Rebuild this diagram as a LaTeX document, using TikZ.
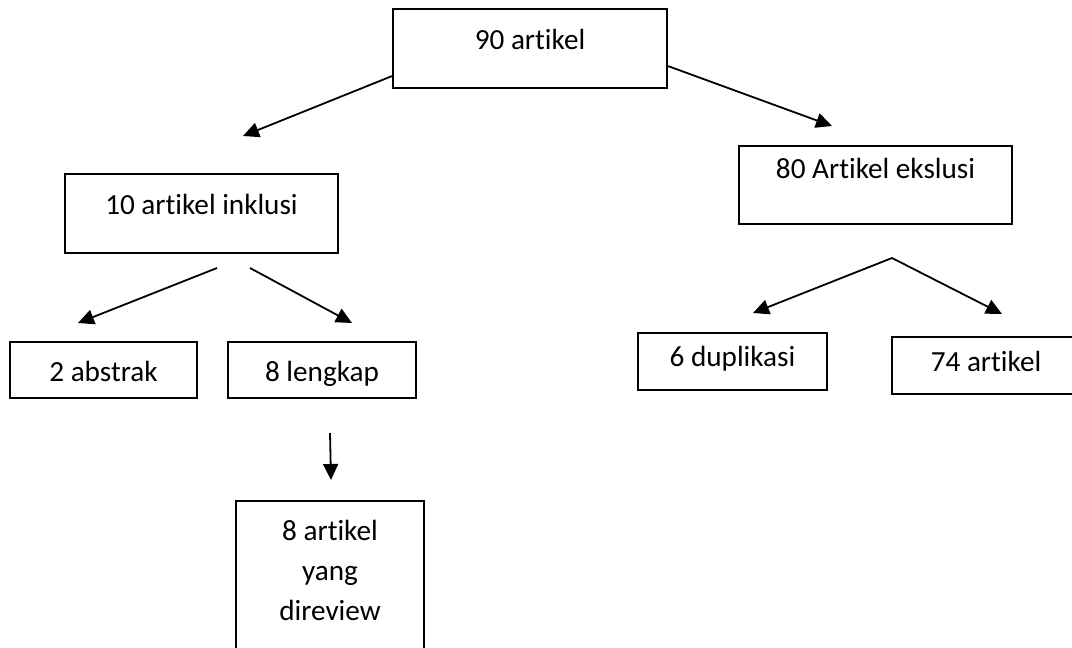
\documentclass[tikz,border=0pt]{standalone}
\usepackage{fontspec}
\setmainfont{Carlito}[Ligatures=NoCommon]
\usetikzlibrary{arrows.meta}
\begin{document}
\begin{tikzpicture}[x=0.5pt,y=-0.5pt,
  box/.style={draw, line width=1.1pt, rectangle, inner xsep=2pt, inner ysep=0pt, anchor=north, font=\fontsize{14.6}{20}\selectfont},
  arr/.style={line width=0.9pt, -{Triangle[length=8pt,width=7.5pt]}}]
\useasboundingbox (0,0) rectangle (1072,648);
\fill[white] (0,0) rectangle (1072,648);
\clip (0,0) rectangle (1072,648);

\node[box, minimum width=137pt, text height=20pt, text depth=19.5pt] (b90) at (530,8) {90 artikel};
\node[box, minimum width=136.5pt, text height=20pt, text depth=19.5pt] (b10) at (201.5,173) {10 artikel inklusi};
\node[box, minimum width=136.5pt, text height=16pt, text depth=23pt] (b80) at (875.5,145) {80 Artikel ekslusi};
\node[box, minimum width=93.5pt, text height=19.5pt, text depth=8.5pt] (babs) at (103.5,341) {2 abstrak};
\node[box, minimum width=94pt, text height=19.5pt, text depth=8.5pt] (blen) at (322,341) {8 lengkap};
\node[box, minimum width=94.5pt, text height=16.5pt, text depth=12pt] (bdup) at (732.5,332) {6 duplikasi};
\node[box, minimum width=94pt, text height=17pt, text depth=11.5pt] (b74) at (986,336) {74 artikel};
\node[box, minimum width=94pt, text height=19.5pt, text depth=70.5pt] (brev) at (330,500)
  {\begin{tabular}[t]{@{}c@{}}8 artikel\\yang\\direview\end{tabular}};

\coordinate (t90a) at (243,136);
\coordinate (t90b) at (832,126);
\coordinate (s10a) at (217,268);
\coordinate (s10b) at (250,268);
\coordinate (t10a) at (78,323);
\coordinate (t10b) at (352,323);
\coordinate (slen) at (330,433);
\coordinate (tlen) at (331,480);
\coordinate (apex) at (892,258);
\coordinate (t80a) at (753,313);
\coordinate (t80b) at (1002,314);

\draw[arr] ([yshift=-13.75pt]b90.west) -- (t90a);
\draw[arr] ([yshift=-8.75pt]b90.east) -- (t90b);
\draw[arr] (s10a) -- (t10a);
\draw[arr] (s10b) -- (t10b);
\draw[arr] (slen) -- (tlen);
\draw[arr] (apex) -- (t80a);
\draw[arr] (apex) -- (t80b);
\end{tikzpicture}
\end{document}
